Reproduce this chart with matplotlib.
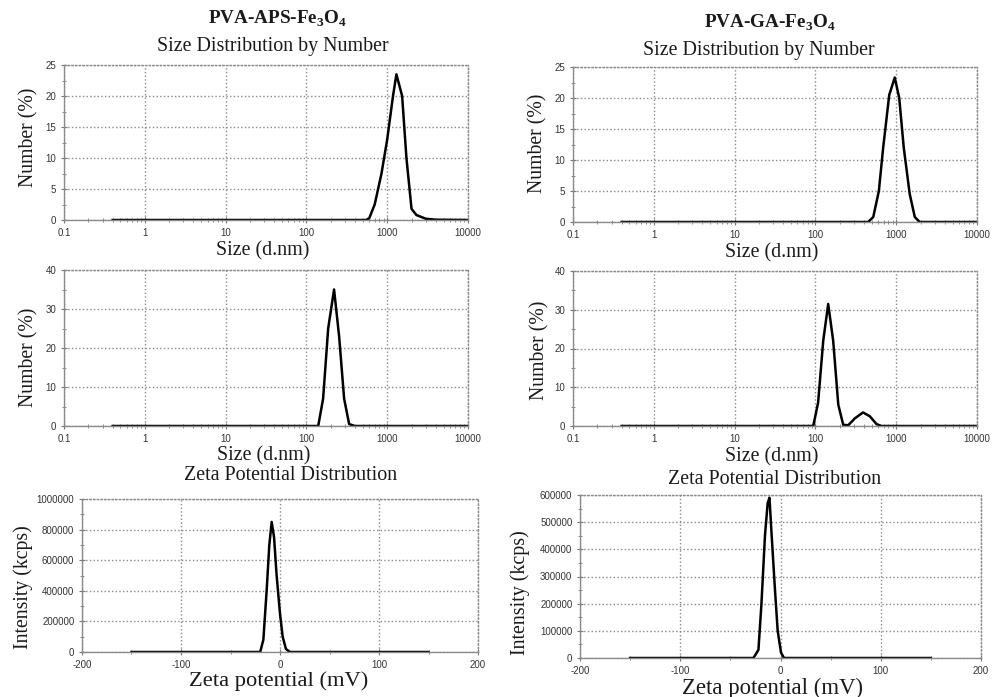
import matplotlib
matplotlib.use("Agg")
import matplotlib.pyplot as plt
from matplotlib.ticker import FixedLocator, LogLocator, MultipleLocator, NullFormatter

# size distribution by number, PVA-APS-Fe3O4
aps_size = [0.4, 550, 600, 700, 850, 1000, 1180, 1300, 1530, 1730, 2000, 2300, 3000, 4000, 10000]
aps_number = [0, 0, 0.3, 2.5, 7.5, 13, 20, 23.5, 20, 10, 1.8, 0.8, 0.2, 0.05, 0]
# size distribution by number, PVA-GA-Fe3O4
ga_size = [0.4, 450, 520, 610, 690, 820, 960, 1090, 1240, 1470, 1700, 1950, 10000]
ga_number = [0, 0, 0.8, 5, 12, 20.5, 23.3, 20, 12, 4.5, 0.8, 0, 0]
# second size measurement
aps_size2 = [0.4, 140, 161, 186, 220, 254, 293, 338, 396, 10000]
aps_number2 = [0, 0, 7, 25, 35, 23, 7, 0.5, 0, 0]
ga_size2 = [0.4, 94, 108, 125, 144, 166, 192, 221, 255, 309, 389, 472, 570, 658, 10000]
ga_number2 = [0, 0, 6, 22, 31.5, 22, 5.5, 0.3, 0.2, 2, 3.5, 2.5, 0.5, 0, 0]
# zeta potential
aps_zeta = [-150, -20, -16.8, -13.5, -10.8, -8.4, -6, -3.4, 0, 2.7, 6, 10, 150]
aps_intensity = [0, 0, 80000, 400000, 700000, 850000, 750000, 500000, 250000, 100000, 20000, 0, 0]
ga_zeta = [-150, -27, -22, -19, -15.5, -12.8, -11, -8.8, -5.5, -2.8, 0.5, 3.5, 150]
ga_intensity = [0, 0, 30000, 200000, 450000, 570000, 590000, 450000, 250000, 100000, 20000, 0, 0]

size_ticks = [0.1, 1, 10, 100, 1000, 10000]
size_labels = ['0.1', '1', '10', '100', '1000', '10000']
zeta_ticks = [-200, -100, 0, 100, 200]

plt.rcParams['font.family'] = 'Liberation Sans'
plt.rcParams['axes.unicode_minus'] = False
plt.rcParams['mathtext.fontset'] = 'custom'
plt.rcParams['mathtext.rm'] = 'Liberation Serif'
plt.rcParams['mathtext.bf'] = 'Liberation Serif:bold'

W, H = 1000, 697
fig = plt.figure(figsize=(10, 6.97), dpi=100)

def px_axes(l, t, r, b):
    return fig.add_axes([l / W, 1 - b / H, (r - l) / W, (b - t) / H])

def style(ax):
    for s in ['left', 'bottom']:
        ax.spines[s].set_color('#8a8a8a')
        ax.spines[s].set_linewidth(1.0)
    for s in ['top', 'right']:
        ax.spines[s].set_color('#8a8a8a')
        ax.spines[s].set_linestyle(':')
        ax.spines[s].set_linewidth(1.0)
    ax.grid(True, which='major', linestyle=':', color='#8a8a8a', linewidth=1.0)
    ax.tick_params(which='major', direction='inout', length=5, color='#777777',
                   labelsize=7, labelcolor='#333333', pad=3)
    ax.tick_params(which='minor', direction='inout', length=3, color='#777777')

def size_panel(ax, x, y, ymax, ystep):
    ax.plot(x, y, color='black', linewidth=1.8)
    ax.set_xscale('log')
    ax.set_xlim(0.1, 10000)
    ax.set_ylim(0, ymax)
    ax.xaxis.set_major_locator(FixedLocator(size_ticks))
    ax.set_xticklabels(size_labels)
    ax.xaxis.set_minor_locator(LogLocator(base=10, subs=range(2, 10)))
    ax.xaxis.set_minor_formatter(NullFormatter())
    ax.yaxis.set_major_locator(MultipleLocator(ystep))
    ax.yaxis.set_minor_locator(MultipleLocator(ystep / 2))
    style(ax)

def zeta_panel(ax, x, y, ymax, ystep):
    ax.plot(x, y, color='black', linewidth=1.8)
    ax.set_xlim(-200, 200)
    ax.set_ylim(0, ymax)
    ax.set_xticks(zeta_ticks)
    ax.xaxis.set_minor_locator(MultipleLocator(50))
    ax.yaxis.set_major_locator(MultipleLocator(ystep))
    ax.yaxis.set_minor_locator(MultipleLocator(ystep / 2))
    ax.yaxis.set_major_formatter(matplotlib.ticker.FuncFormatter(lambda v, p: f'{int(v)}'))
    style(ax)

ax1 = px_axes(64, 65, 468, 220)
size_panel(ax1, aps_size, aps_number, 25, 5)
ax2 = px_axes(573, 67, 977, 222)
size_panel(ax2, ga_size, ga_number, 25, 5)
ax3 = px_axes(64, 270, 468, 426)
size_panel(ax3, aps_size2, aps_number2, 40, 10)
ax4 = px_axes(573, 271, 977, 426)
size_panel(ax4, ga_size2, ga_number2, 40, 10)
ax5 = px_axes(82, 499, 478, 652)
zeta_panel(ax5, aps_zeta, aps_intensity, 1000000, 200000)
ax6 = px_axes(580, 495, 981, 658)
zeta_panel(ax6, ga_zeta, ga_intensity, 600000, 100000)

def label(x, y, s, size=14.4, rot=0, weight='normal'):
    fig.text(x / W, 1 - y / H, s, ha='center', va='center', rotation=rot,
             fontsize=size, family='Liberation Serif', weight=weight, color='#1a1a1a')

label(278, 19, r'PVA-APS-Fe$_\mathbf{3}$O$_\mathbf{4}$', size=13.8, weight='bold')
label(273, 46, 'Size Distribution by Number')
label(770, 23, r'PVA-GA-Fe$_\mathbf{3}$O$_\mathbf{4}$', size=13.8, weight='bold')
label(759, 50, 'Size Distribution by Number')

label(263, 251, 'Size (d.nm)')
label(772, 253, 'Size (d.nm)')
label(264, 456, 'Size (d.nm)')
label(772, 457, 'Size (d.nm)')
label(291, 475, 'Zeta Potential Distribution')
label(775, 479, 'Zeta Potential Distribution')
label(279, 681, 'Zeta potential (mV)', size=16.2)
label(773, 688, 'Zeta potential (mV)', size=16.4)

label(29, 137, 'Number (%)', size=14.2, rot=90)
label(538, 143, 'Number (%)', size=14.2, rot=90)
label(29, 357, 'Number (%)', size=14.2, rot=90)
label(540, 350, 'Number (%)', size=14.2, rot=90)
label(23, 587, 'Intensity (kcps)', size=14.2, rot=90)
label(520, 593, 'Intensity (kcps)', size=14.4, rot=90)

fig.savefig('out.png', dpi=100)
